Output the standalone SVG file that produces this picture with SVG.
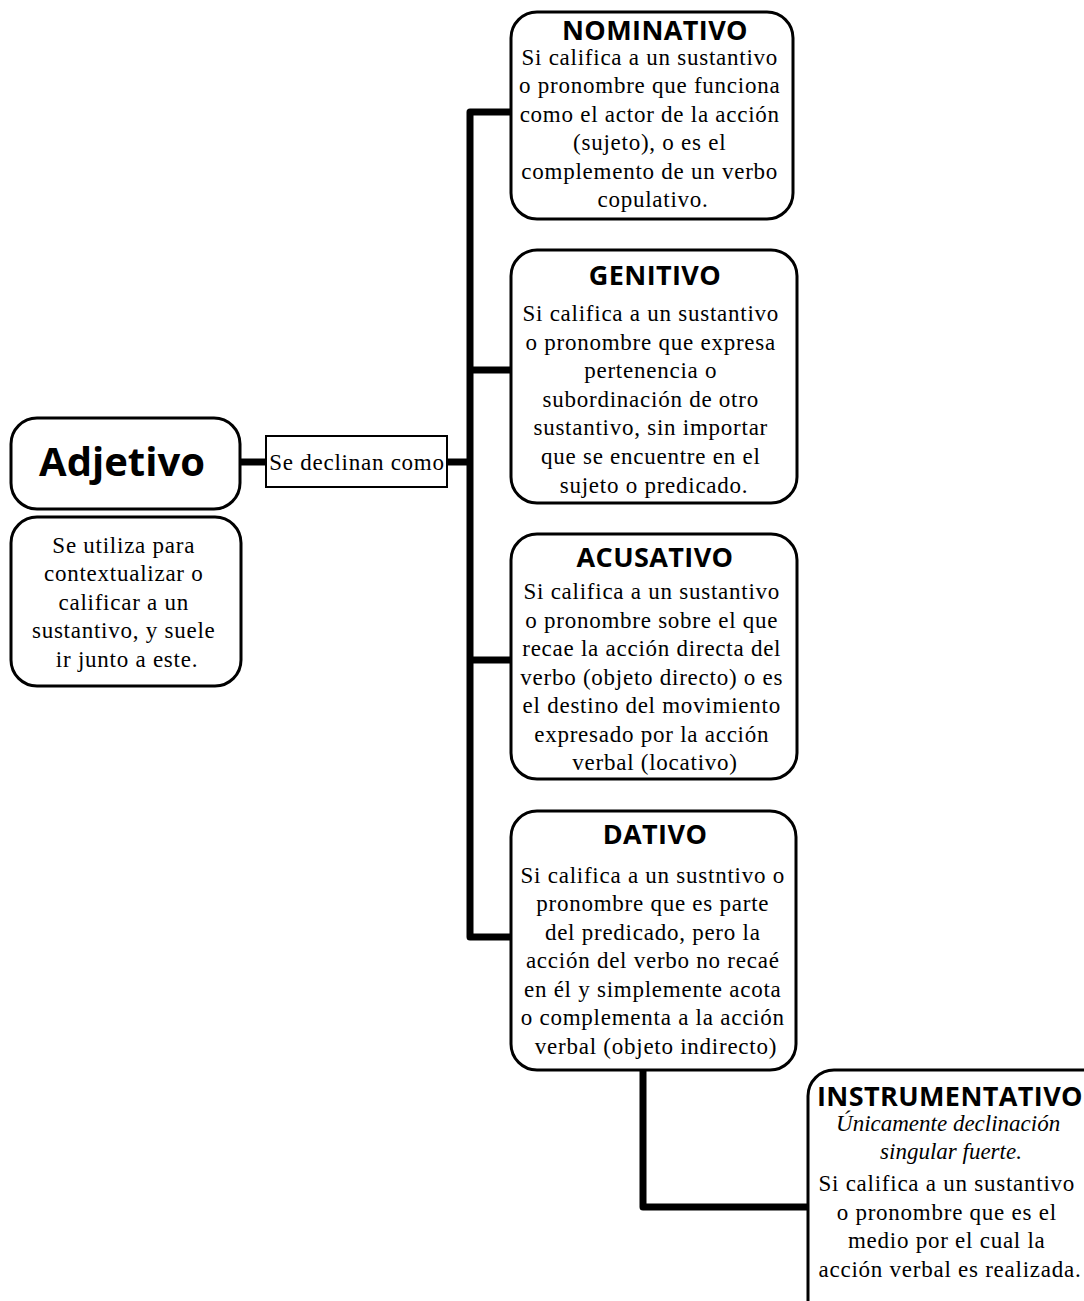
<svg xmlns="http://www.w3.org/2000/svg" width="1084" height="1301" viewBox="0 0 1084 1301">
  <style>
    .box { fill: #ffffff; stroke: #000000; stroke-width: 3; }
    .lbl { fill: #ffffff; stroke: #000000; stroke-width: 2; }
    .wire { fill: none; stroke: #000000; stroke-width: 7; stroke-linejoin: round; }
    .head { font-family: "Open Sans", "DejaVu Sans", sans-serif; font-weight: 700; font-size: 27px; letter-spacing: 0.4px; text-anchor: middle; fill: #000; }
    .body { font-family: "Liberation Serif", "DejaVu Serif", serif; font-size: 23px; letter-spacing: 0.75px; text-anchor: middle; fill: #000; }
    .em { font-style: italic; letter-spacing: 0; }
  </style>
  <rect width="1084" height="1301" fill="#ffffff"/>

  <!-- connectors -->
  <g id="connectors">
    <path class="wire" d="M240 462 H266"/>
    <path class="wire" d="M447 462 H470"/>
    <path class="wire" d="M512 112 H470 V937 H512"/>
    <path class="wire" d="M470 370 H512"/>
    <path class="wire" d="M470 660 H512"/>
    <path class="wire" d="M643 1070 V1207 H808"/>
  </g>

  <g id="adjetivo">
    <rect class="box" x="11" y="418" width="229" height="91" rx="26"/>
    <text x="122" y="476" font-family="'Open Sans', 'DejaVu Sans', sans-serif" font-weight="700" font-size="40" text-anchor="middle">Adjetivo</text>
  </g>

  <g id="adjetivo-desc">
    <rect class="box" x="11" y="517" width="230" height="169" rx="26"/>
    <text class="body">
      <tspan x="127" y="553">Se utiliza para</tspan>
      <tspan x="127" y="581">contextualizar o</tspan>
      <tspan x="127" y="610">calificar a un</tspan>
      <tspan x="127" y="638">sustantivo, y suele</tspan>
      <tspan x="127" y="667">ir junto a este.</tspan>
    </text>
  </g>

  <g id="declinan">
    <rect class="lbl" x="266" y="436" width="181" height="51"/>
    <text class="body" x="357" y="470">Se declinan como</text>
  </g>

  <g id="nominativo">
    <rect class="box" x="511" y="12" width="282" height="207" rx="26"/>
    <text class="head" x="655" y="40">NOMINATIVO</text>
    <text class="body">
      <tspan x="653" y="65">Si califica a un sustantivo</tspan>
      <tspan x="653" y="93">o pronombre que funciona</tspan>
      <tspan x="653" y="122">como el actor de la acción</tspan>
      <tspan x="653" y="150">(sujeto), o es el</tspan>
      <tspan x="653" y="179">complemento de un verbo</tspan>
      <tspan x="653" y="207">copulativo.</tspan>
    </text>
  </g>

  <g id="genitivo">
    <rect class="box" x="511" y="250" width="286" height="253" rx="26"/>
    <text class="head" x="655" y="285">GENITIVO</text>
    <text class="body">
      <tspan x="654" y="321">Si califica a un sustantivo</tspan>
      <tspan x="654" y="350">o pronombre que expresa</tspan>
      <tspan x="654" y="378">pertenencia o</tspan>
      <tspan x="654" y="407">subordinación de otro</tspan>
      <tspan x="654" y="435">sustantivo, sin importar</tspan>
      <tspan x="654" y="464">que se encuentre en el</tspan>
      <tspan x="654" y="493">sujeto o predicado.</tspan>
    </text>
  </g>

  <g id="acusativo">
    <rect class="box" x="511" y="534" width="286" height="245" rx="26"/>
    <text class="head" x="655" y="567">ACUSATIVO</text>
    <text class="body">
      <tspan x="655" y="599">Si califica a un sustantivo</tspan>
      <tspan x="655" y="628">o pronombre sobre el que</tspan>
      <tspan x="655" y="656">recae la acción directa del</tspan>
      <tspan x="655" y="685">verbo (objeto directo) o es</tspan>
      <tspan x="655" y="713">el destino del movimiento</tspan>
      <tspan x="655" y="742">expresado por la acción</tspan>
      <tspan x="655" y="770">verbal (locativo)</tspan>
    </text>
  </g>

  <g id="dativo">
    <rect class="box" x="511" y="811" width="285" height="259" rx="26"/>
    <text class="head" x="655" y="844">DATIVO</text>
    <text class="body">
      <tspan x="656" y="883">Si califica a un sustntivo o</tspan>
      <tspan x="656" y="911">pronombre que es parte</tspan>
      <tspan x="656" y="940">del predicado, pero la</tspan>
      <tspan x="656" y="968">acción del verbo no recaé</tspan>
      <tspan x="656" y="997">en él y simplemente acota</tspan>
      <tspan x="656" y="1025">o complementa a la acción</tspan>
      <tspan x="656" y="1054">verbal (objeto indirecto)</tspan>
    </text>
  </g>

  <g id="instrumentativo">
    <rect class="box" x="808" y="1070" width="300" height="260" rx="26"/>
    <text class="head" x="950" y="1106">INSTRUMENTATIVO</text>
    <text class="body em">
      <tspan x="951" y="1131">Únicamente declinación</tspan>
      <tspan x="951" y="1159">singular fuerte.</tspan>
    </text>
    <text class="body">
      <tspan x="950" y="1191">Si califica a un sustantivo</tspan>
      <tspan x="950" y="1220">o pronombre que es el</tspan>
      <tspan x="950" y="1248">medio por el cual la</tspan>
      <tspan x="950" y="1277">acción verbal es realizada.</tspan>
    </text>
  </g>
</svg>
